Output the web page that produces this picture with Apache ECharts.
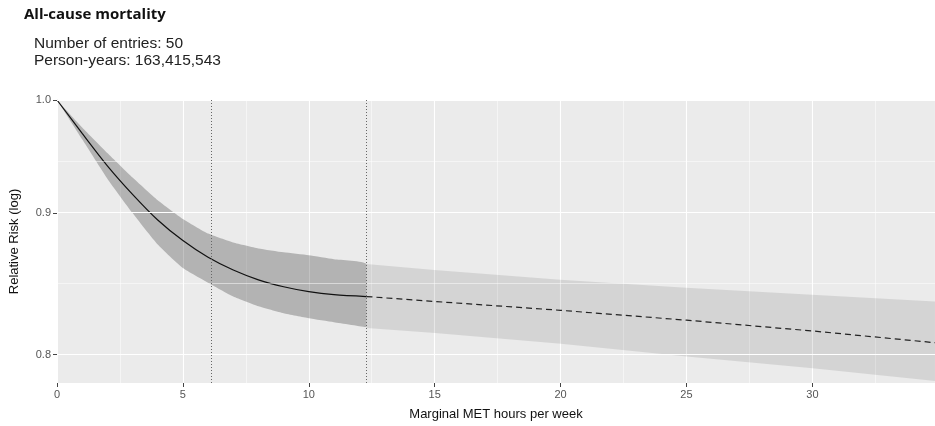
<!DOCTYPE html>
<html><head><meta charset="utf-8">
<script src="https://cdn.jsdelivr.net/npm/echarts@6/dist/echarts.min.js"></script>
<style>html,body{margin:0;padding:0;background:#fff}#c{width:935px;height:426px}</style>
</head><body><div id="c"></div>
<script>
// ---- data (relative risk) ----
const xSolid   = [0, 1, 2, 3, 4, 5, 6, 7, 8, 9, 10, 11, 12.29];
const rrSolid  = [1.0, 0.9682, 0.9393, 0.9152, 0.8946, 0.8787, 0.8662, 0.8569, 0.8499, 0.8450, 0.8416, 0.8395, 0.8382];
const upSolid  = [1.0, 0.9737, 0.9505, 0.9292, 0.9104, 0.8954, 0.8840, 0.8772, 0.8728, 0.8699, 0.8677, 0.8648, 0.8612];
const loSolid  = [1.0, 0.9628, 0.9283, 0.9001, 0.8757, 0.8583, 0.8478, 0.8382, 0.8315, 0.8268, 0.8235, 0.8209, 0.8177];
const xDash    = [12.29, 15, 20, 25, 30, 34.87];
const rrDash   = [0.8382, 0.8348, 0.8288, 0.8222, 0.8151, 0.8075];
const upDash   = [0.8612, 0.8569, 0.8499, 0.8443, 0.8395, 0.8348];
const loDash   = [0.8170, 0.8138, 0.8069, 0.7988, 0.7914, 0.7837];
const vLines   = [6.12, 12.29];
const yTicks   = [1.0, 0.9, 0.8];

// ---- helpers ----
const tf = v => 1 / v;   // axis transform (reproduces the picture's spacing)
const pairs = (xs, ys) => xs.map((x, i) => [x, tf(ys[i])]);
const yMajor = yTicks.map(tf);
const yMinor = [];
for (let i = 0; i < yMajor.length - 1; i++) yMinor.push((yMajor[i] + yMajor[i + 1]) / 2);

function bandSeries(xs, hi, lo, fill, smooth) {
  return {
    type: 'custom', silent: true, animation: false, z: 2, clip: true,
    data: [0],
    renderItem: function (params, api) {
      const pts = [];
      for (let i = 0; i < xs.length; i++) pts.push(api.coord([xs[i], tf(hi[i])]));
      for (let i = xs.length - 1; i >= 0; i--) pts.push(api.coord([xs[i], tf(lo[i])]));
      const minX = Math.min(...pts.map(p => p[0])), maxX = Math.max(...pts.map(p => p[0]));
      const minY = Math.min(...pts.map(p => p[1])), maxY = Math.max(...pts.map(p => p[1]));
      const shape = {points: pts, smooth: smooth};
      if (smooth) shape.smoothConstraint = [[minX, minY], [maxX, maxY]];
      return {type: 'polygon', shape: shape, style: {fill: fill, stroke: null}};
    }
  };
}

const FONT = 'Liberation Sans';
const chart = echarts.init(document.getElementById('c'));
const base = {type: 'line', symbol: 'none', silent: true, animation: false};

chart.setOption({
  animation: false,
  title: [
    {text: 'All-cause mortality', left: 24, top: 7, padding: 0,
     textStyle: {fontFamily: 'Open Sans', fontWeight: 'bold', fontSize: 15, color: '#111'}},
    {text: 'Number of entries: 50\nPerson-years: 163,415,543', left: 34, top: 35, padding: 0,
     textStyle: {fontFamily: FONT, fontWeight: 'normal', fontSize: 15.5, lineHeight: 17, color: '#222'}}
  ],
  grid: {left: 51, right: 0, top: 100, bottom: 38, show: true, backgroundColor: '#ebebeb', borderWidth: 0},
  xAxis: {
    type: 'value', min: 0, max: 34.87, interval: 5,
    name: 'Marginal MET hours per week', nameLocation: 'middle', nameGap: 25,
    nameTextStyle: {fontFamily: FONT, fontSize: 13, color: '#111'},
    axisLine: {show: false},
    axisTick: {show: true, length: 4, lineStyle: {color: '#444'}},
    axisLabel: {fontFamily: FONT, fontSize: 11, color: '#555', margin: 6, showMaxLabel: false},
    splitLine: {show: true, lineStyle: {color: '#fff', width: 1.1}},
    minorTick: {show: false, splitNumber: 2},
    minorSplitLine: {show: true, lineStyle: {color: '#fff', width: 0.5}}
  },
  yAxis: {
    type: 'value', inverse: true, min: 1, max: tf(0.7825),
    name: 'Relative Risk (log)', nameLocation: 'middle', nameGap: 36,
    nameTextStyle: {fontFamily: FONT, fontSize: 13, color: '#111'},
    axisLine: {show: false},
    axisTick: {show: true, length: 4, lineStyle: {color: '#444'}, customValues: yMajor},
    axisLabel: {fontFamily: FONT, fontSize: 11, color: '#555', margin: 6,
                customValues: yMajor, formatter: v => (1 / v).toFixed(1)},
    splitLine: {show: false}
  },
  series: [
    Object.assign({}, base, {
      name: 'grid', data: [], z: 1,
      markLine: {silent: true, symbol: 'none', label: {show: false}, animation: false,
        data: yMajor.map(v => ({yAxis: v, lineStyle: {color: '#fff', width: 1.1, type: 'solid'}}))
          .concat(yMinor.map(v => ({yAxis: v, lineStyle: {color: '#fff', width: 0.5, type: 'solid'}})))}
    }),
    bandSeries(xSolid, upSolid, loSolid, 'rgba(0,0,0,0.24)', 0.15),
    bandSeries(xDash, upDash, loDash, 'rgba(0,0,0,0.095)', 0),
    Object.assign({}, base, {name: 'vlines', data: [], z: 3,
      markLine: {silent: true, symbol: 'none', label: {show: false}, animation: false,
        lineStyle: {color: '#666', width: 1, type: [1, 2]},
        data: vLines.map(v => ({xAxis: v}))}}),
    Object.assign({}, base, {name: 'solid', data: pairs(xSolid, rrSolid), smooth: 0.3,
      lineStyle: {color: '#111', width: 1.2}, z: 4}),
    Object.assign({}, base, {name: 'dash', data: pairs(xDash, rrDash),
      lineStyle: {color: '#222', width: 1.2, type: [6, 4]}, z: 4})
  ]
});
</script></body></html>
